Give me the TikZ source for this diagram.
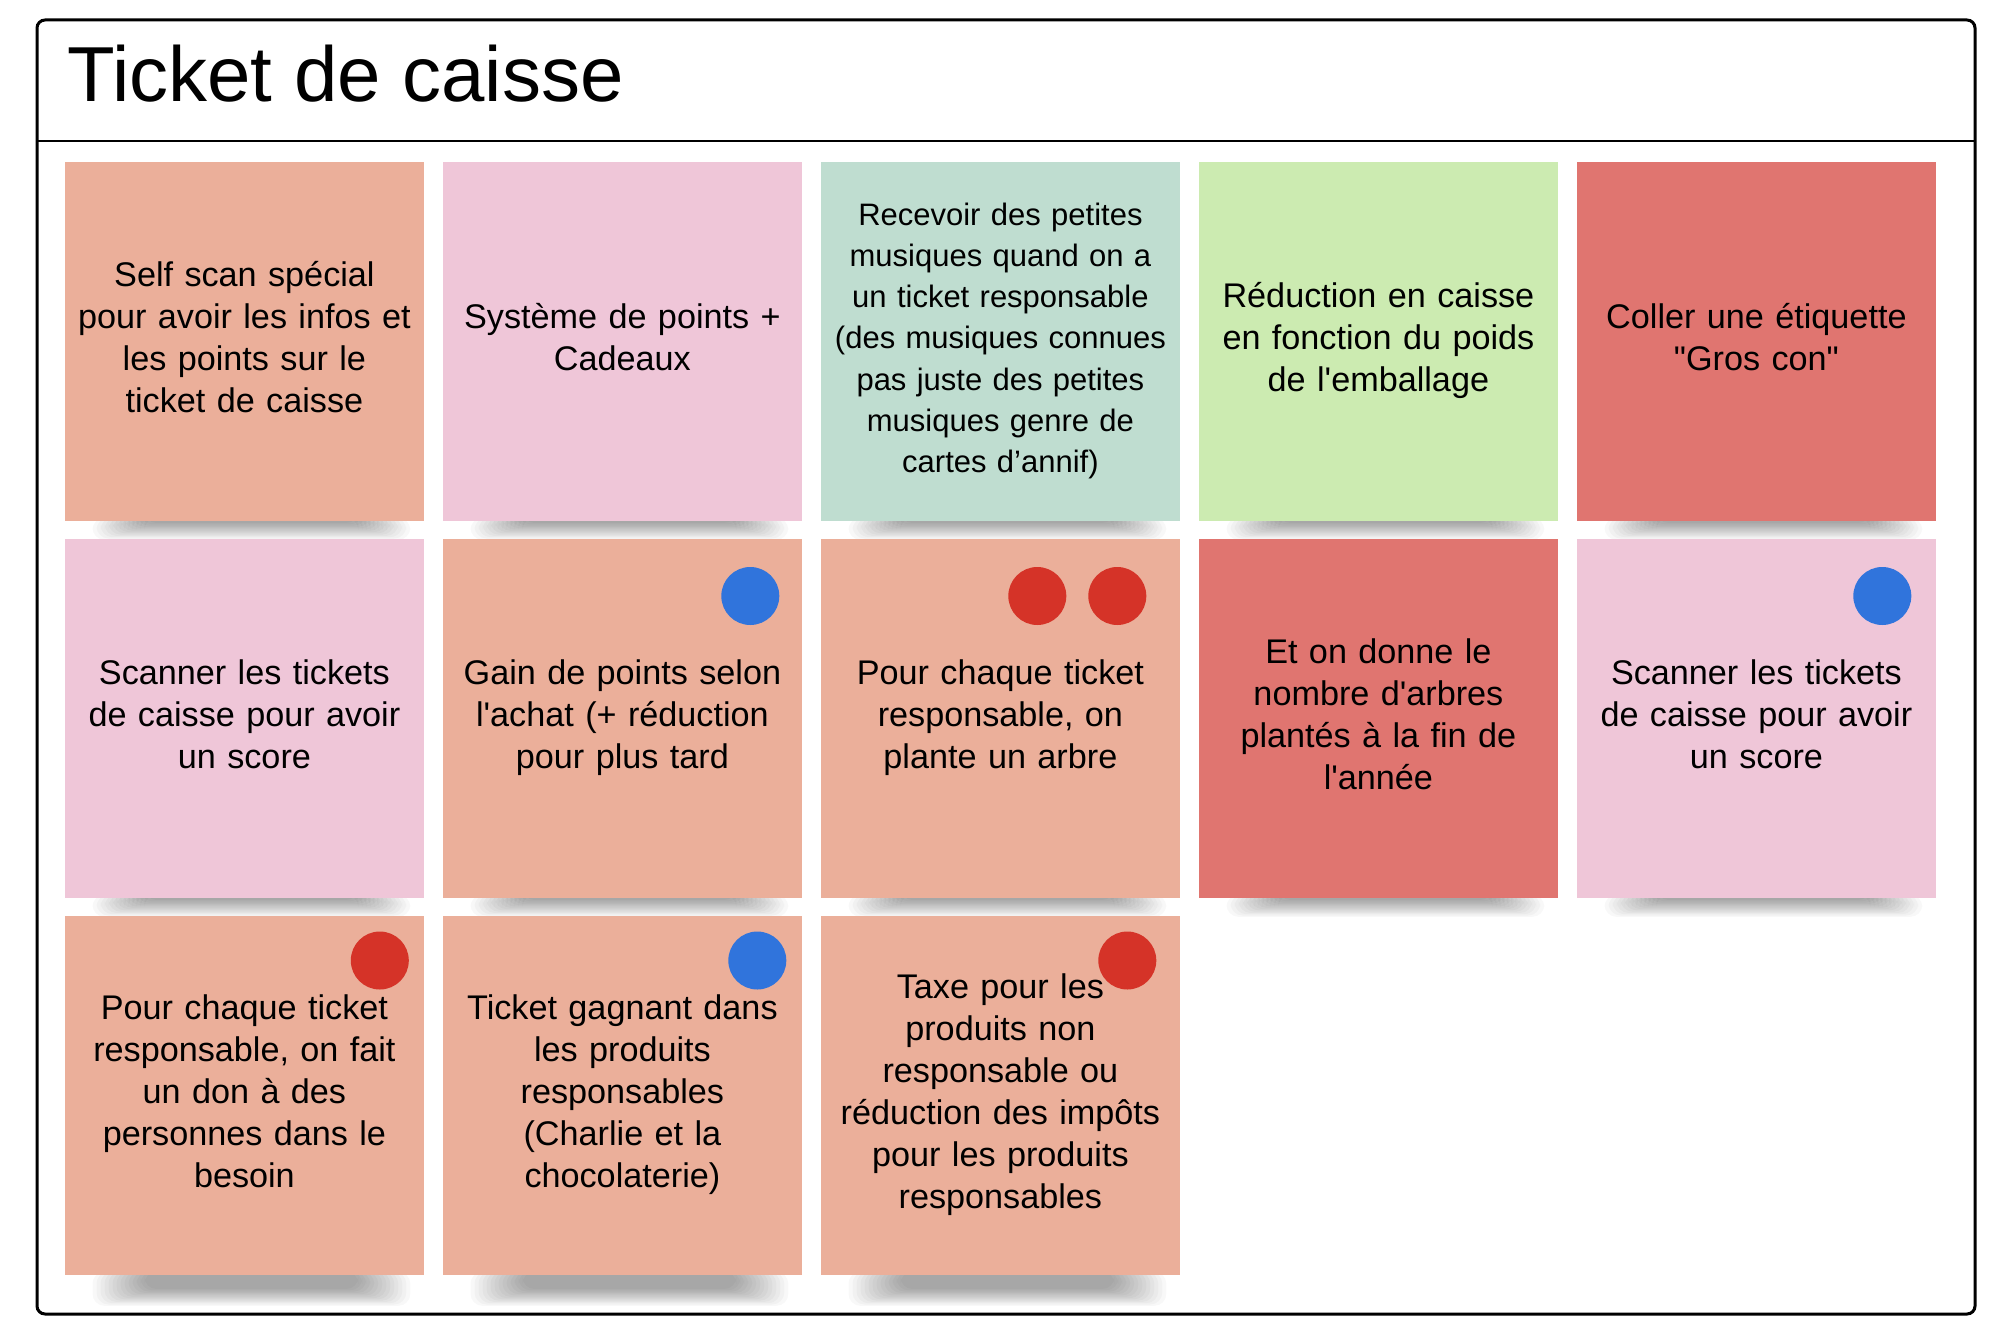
\documentclass[tikz,border=0pt]{standalone}
\usepackage{fontspec}
\setmainfont{Liberation Sans}
\usetikzlibrary{calc}
\definecolor{csalmon}{HTML}{EBAF9A}
\definecolor{cpink}{HTML}{EFC6D8}
\definecolor{cmint}{HTML}{BFDDD0}
\definecolor{cgreen}{HTML}{CCEBB1}
\definecolor{cred}{HTML}{E07570}
\definecolor{dotblue}{HTML}{3074DC}
\definecolor{dotred}{HTML}{D53328}
\pgfdeclarelayer{bg}
\pgfsetlayers{bg,main}
\tikzset{
  note/.style={rectangle, anchor=north west, minimum width=179.5pt, minimum height=179.5pt, inner sep=0pt},
  ntext/.style={inner sep=0pt, text width=176pt, align=center, font=\fontsize{17.1}{21}\selectfont},
  dot/.style={circle, minimum size=29pt, inner sep=0pt},
  frame/.style={draw=black, line width=1.5pt, rounded corners=4pt},
}
\newcommand\notesh[2]{%
  \begin{pgfonlayer}{bg}
  \foreach \k in {0,...,13}{
    \fill[black,opacity=0.026,rounded corners=6pt]
      ($(#1.south west)+(28+\k*4,-4)$) rectangle ($(#1.south east)+(-14-\k*4,#2-\k*1.3)$);
  }
  \end{pgfonlayer}}
\newcommand\notetext[3][]{\node[ntext,#1] (t#2) at ($(#2.center)+(0,-1)$) {#3\vphantom{(}};}
\begin{document}
\begin{tikzpicture}[x=0.5pt,y=-0.5pt]
\useasboundingbox (0,0) rectangle (2007,1338);
\begin{pgfonlayer}{bg}
\fill[white] (0,0) rectangle (2007,1338);
\end{pgfonlayer}
% frame
\draw[frame] (37,20) rectangle (1975,1314);
\coordinate (hl) at (37,141.5);
\coordinate (hr) at (1975,141.5);
\draw[line width=1pt] (hl) -- (hr);
\node[anchor=base west, inner sep=0pt, font=\fontsize{39}{46}\selectfont] (title) at (67,102) {Ticket de caisse};
% row 1
\node[note, fill=csalmon] (n11) at (64.5,162) {};
\notetext{n11}{Self scan spécial\\pour avoir les infos et\\les points sur le\\ticket de caisse}
\node[note, fill=cpink] (n12) at (442.5,162) {};
\notetext{n12}{Système de points +\\Cadeaux}
\node[note, fill=cmint] (n13) at (820.5,162) {};
\notetext[font=\fontsize{15.5}{20.6}\selectfont]{n13}{Recevoir des petites\\musiques quand on a\\un ticket responsable\\(des musiques connues\\pas juste des petites\\musiques genre de\\cartes d’annif)}
\node[note, fill=cgreen] (n14) at (1198.5,162) {};
\notetext{n14}{Réduction en caisse\\en fonction du poids\\de l\textquotesingle emballage}
\node[note, fill=cred] (n15) at (1576.5,162) {};
\notetext{n15}{Coller une étiquette\\\textquotedbl Gros con\textquotedbl}
% row 2
\node[note, fill=cpink] (n21) at (64.5,539) {};
\notetext{n21}{Scanner les tickets\\de caisse pour avoir\\un score}
\node[note, fill=csalmon] (n22) at (442.5,539) {};
\notetext{n22}{Gain de points selon\\l\textquotesingle achat (+ réduction\\pour plus tard}
\node[note, fill=csalmon] (n23) at (820.5,539) {};
\notetext{n23}{Pour chaque ticket\\responsable, on\\plante un arbre}
\node[note, fill=cred] (n24) at (1198.5,539) {};
\notetext{n24}{Et on donne le\\nombre d\textquotesingle arbres\\plantés à la fin de\\l\textquotesingle année}
\node[note, fill=cpink] (n25) at (1576.5,539) {};
\notetext{n25}{Scanner les tickets\\de caisse pour avoir\\un score}
% row 3
\node[note, fill=csalmon] (n31) at (64.5,916) {};
\notetext{n31}{Pour chaque ticket\\responsable, on fait\\un don à des\\personnes dans le\\besoin}
\node[note, fill=csalmon] (n32) at (442.5,916) {};
\notetext{n32}{Ticket gagnant dans\\les produits\\responsables\\(Charlie et la\\chocolaterie)}
\node[note, fill=csalmon] (n33) at (820.5,916) {};
\notetext{n33}{Taxe pour les\\produits non\\responsable ou\\réduction des impôts\\pour les produits\\responsables}
% shadows
\foreach \n in {n11,n12,n13,n14,n15,n21,n22,n23,n24,n25}{\notesh{\n}{18}}
\foreach \n in {n31,n32,n33}{\notesh{\n}{30}}
% dots
\node[dot, fill=dotblue] (d22) at ($(n22.north east)+(-52,57)$) {};
\node[dot, fill=dotred] (d23a) at ($(n23.north east)+(-143,57)$) {};
\node[dot, fill=dotred] (d23b) at ($(n23.north east)+(-63,57)$) {};
\node[dot, fill=dotblue] (d25) at ($(n25.north east)+(-54,57)$) {};
\node[dot, fill=dotred] (d31) at ($(n31.north east)+(-44.5,44.5)$) {};
\node[dot, fill=dotblue] (d32) at ($(n32.north east)+(-45,44.5)$) {};
\node[dot, fill=dotred] (d33) at ($(n33.north east)+(-53,44.5)$) {};
\end{tikzpicture}
\end{document}
